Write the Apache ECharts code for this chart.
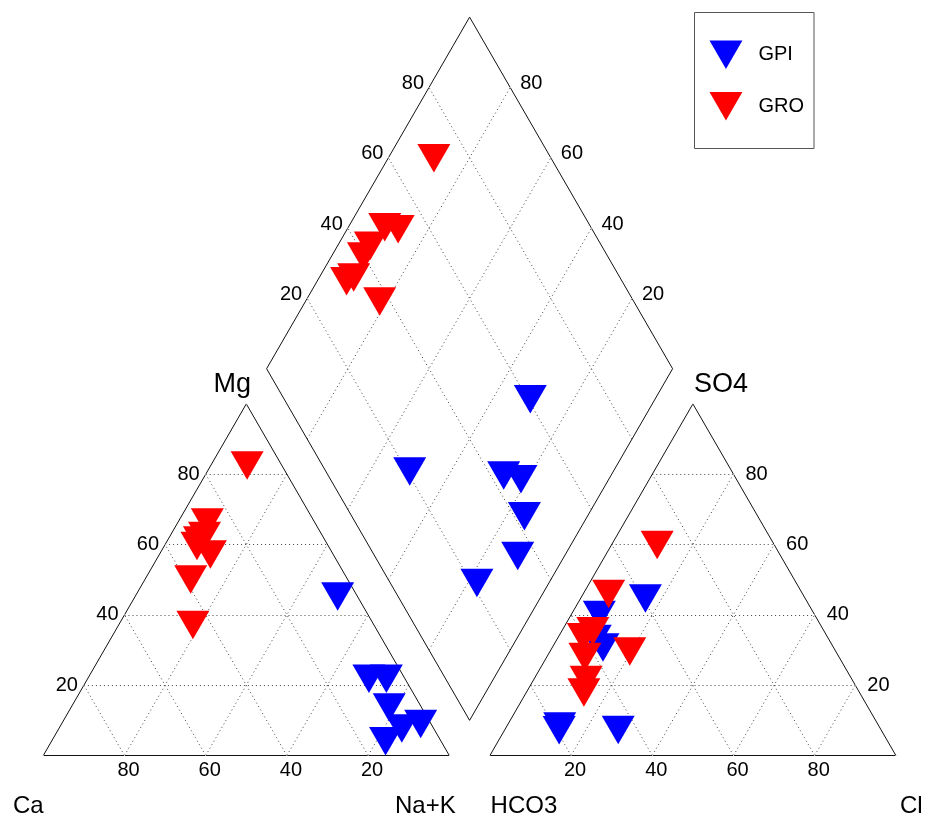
<!DOCTYPE html>
<html>
<head>
<meta charset="utf-8">
<script src="https://cdn.jsdelivr.net/npm/echarts@6/dist/echarts.min.js"></script>
<style>
  html, body { margin: 0; padding: 0; background: #fff; }
  #chart { width: 935px; height: 820px; }
</style>
</head>
<body>
<div id="chart"></div>
<script>
// ---------------- data (percent of meq) ----------------
const TICKS = [20, 40, 60, 80];
const GROUPS = ['GPI', 'GRO'];

const GPI_Ca   = [8.2, 4.2, 3.9, 7.3, 7.2, 1.9, 13.0];
const GPI_Mg   = [23.2, 46.6, 23.2, 15.0, 9.0, 10.3, 5.4];
const GPI_NaK  = [68.6, 49.2, 72.9, 77.7, 83.8, 87.8, 81.6];
const GPI_HCO3 = [38.7, 78.7, 56.1, 52.4, 56.8, 64.1, 78.0];
const GPI_SO4  = [46.0, 8.5, 32.1, 41.3, 34.5, 8.6, 9.6];
const GPI_Cl   = [15.3, 12.8, 11.8, 6.3, 8.7, 27.3, 12.4];

const GRO_Ca   = [7.9, 25.8, 28.4, 31.7, 30.3, 29.6, 38.0, 43.9];
const GRO_Mg   = [83.8, 67.6, 63.8, 60.9, 62.5, 58.5, 51.4, 38.5];
const GRO_NaK  = [8.3, 6.6, 7.8, 7.4, 7.2, 11.9, 10.6, 17.6];
const GRO_HCO3 = [50.1, 67.2, 64.9, 56.3, 59.5, 47.1, 28.2, 61.9];
const GRO_SO4  = [30.9, 19.3, 22.8, 36.7, 35.0, 47.3, 61.2, 29.4];
const GRO_Cl   = [19.0, 13.5, 12.3, 7.0, 5.5, 5.6, 10.6, 8.7];

// ---------------- Piper geometry (unit = triangle side) ----------------
const H = Math.sqrt(3) / 2;
const GAP = 0.1;
const AX = 1 + GAP;                 // anion triangle x origin
const DBX = 1 + GAP / 2;            // diamond bottom
const DBY = (GAP / 2) * Math.sqrt(3);

function cat(Ca, Mg, Na) { const t = Ca + Mg + Na; Mg /= t; Na /= t; return [Na + Mg / 2, Mg * H]; }
function ani(HC, SO, Cl) { const t = HC + SO + Cl; SO /= t; Cl /= t; return [AX + Cl + SO / 2, SO * H]; }
function dia(a, b) { return [DBX + (b - a) / 2, DBY + (a + b) * H]; }

function piper(Ca, Mg, Na, HC, SO, Cl) {
  const pts = [];
  for (let i = 0; i < Ca.length; i++) {
    const tc = Ca[i] + Mg[i] + Na[i], ta = HC[i] + SO[i] + Cl[i];
    const a = (Ca[i] + Mg[i]) / tc;          // Ca+Mg fraction
    const b = (SO[i] + Cl[i]) / ta;          // SO4+Cl fraction
    pts.push(cat(Ca[i], Mg[i], Na[i]));
    pts.push(ani(HC[i], SO[i], Cl[i]));
    pts.push(dia(a, b));
  }
  return pts;
}

// ---------------- pixel frame ----------------
const W = 935, HT = 820, X0 = 43.3, Y0 = 755.5, S = 406;

// outlines
const outline = [
  [cat(100,0,0), cat(0,0,100), cat(0,100,0), cat(100,0,0)],
  [ani(100,0,0), ani(0,0,100), ani(0,100,0), ani(100,0,0)],
  [dia(0,0), dia(0,1), dia(1,1), dia(1,0), dia(0,0)]
].map(c => ({ coords: c }));

// dotted grid
const grid = [];
TICKS.forEach(t => {
  const k = t / 100;
  grid.push([cat(100 - t, t, 0), cat(0, t, 100 - t)]);
  grid.push([cat(100 - t, 0, t), cat(0, 100 - t, t)]);
  grid.push([cat(t, 0, 100 - t), cat(t, 100 - t, 0)]);
  grid.push([ani(100 - t, t, 0), ani(0, t, 100 - t)]);
  grid.push([ani(100 - t, 0, t), ani(0, 100 - t, t)]);
  grid.push([ani(t, 0, 100 - t), ani(t, 100 - t, 0)]);
  grid.push([dia(k, 0), dia(k, 1)]);
  grid.push([dia(0, k), dia(1, k)]);
});

// labels
const FONT = 'Liberation Sans, Arial, sans-serif';
const labels = [];
TICKS.forEach(t => {
  const k = t / 100;
  labels.push({ name: String(t), value: cat(t, 0, 100 - t), label: { align: 'center', offset: [4, 15] } });
  labels.push({ name: String(t), value: cat(100 - t, t, 0), label: { align: 'right', offset: [-6, 0] } });
  labels.push({ name: String(t), value: ani(100 - t, 0, t), label: { align: 'center', offset: [4, 15] } });
  labels.push({ name: String(t), value: ani(0, t, 100 - t), label: { align: 'left', offset: [12, 0] } });
  labels.push({ name: String(t), value: dia(1, k), label: { align: 'right', offset: [-5, -4] } });
  labels.push({ name: String(t), value: dia(k, 1), label: { align: 'left', offset: [10, -4] } });
});
const titles = [
  { name: 'Mg',   value: cat(0,100,0), label: { align: 'center', offset: [-14, -19], fontSize: 27 } },
  { name: 'SO4',  value: ani(0,100,0), label: { align: 'center', offset: [28, -19], fontSize: 27 } },
  { name: 'Ca',   value: cat(100,0,0), label: { align: 'center', offset: [-15, 51], fontSize: 24 } },
  { name: 'Na+K', value: cat(0,0,100), label: { align: 'center', offset: [-24, 51], fontSize: 24 } },
  { name: 'HCO3', value: ani(100,0,0), label: { align: 'center', offset: [34, 51], fontSize: 24 } },
  { name: 'Cl',   value: ani(0,0,100), label: { align: 'left', offset: [4, 51], fontSize: 24 } }
];

const TRI = 'path://M0,0L2,0L1,1.732Z';
const SYM = [33, 28.5];

const chart = echarts.init(document.getElementById('chart'), null, { renderer: 'canvas' });
chart.setOption({
  animation: false,
  backgroundColor: '#ffffff',
  grid: { left: 0, right: 0, top: 0, bottom: 0, containLabel: false },
  xAxis: { type: 'value', min: -X0 / S, max: (W - X0) / S, show: false },
  yAxis: { type: 'value', min: -(HT - Y0) / S, max: Y0 / S, show: false },
  legend: {
    orient: 'vertical', left: 694.5, top: 12.5,
    padding: [28, 10, 28, 15], itemGap: 23,
    itemWidth: SYM[0], itemHeight: SYM[1],
    borderColor: '#555', borderWidth: 1,
    textStyle: { fontFamily: FONT, fontSize: 20, color: '#000', padding: [0, 0, 4, 11] },
    data: GROUPS.map(g => ({ name: g, icon: TRI }))
  },
  series: [
    { type: 'lines', coordinateSystem: 'cartesian2d', polyline: false, silent: true, z: 1,
      lineStyle: { color: '#444', width: 1, type: [1, 3], opacity: 1 }, data: grid.map(c => ({ coords: c })) },
    { type: 'lines', coordinateSystem: 'cartesian2d', polyline: true, silent: true, z: 2,
      lineStyle: { color: '#111', width: 1, opacity: 1 }, data: outline },
    { name: 'GPI', type: 'scatter', z: 5, symbol: TRI, symbolSize: SYM, symbolOffset: [0, SYM[1] / 6],
      itemStyle: { color: '#0000ff', opacity: 1 },
      data: piper(GPI_Ca, GPI_Mg, GPI_NaK, GPI_HCO3, GPI_SO4, GPI_Cl) },
    { name: 'GRO', type: 'scatter', z: 6, symbol: TRI, symbolSize: SYM, symbolOffset: [0, SYM[1] / 6],
      itemStyle: { color: '#ff0000', opacity: 1 },
      data: piper(GRO_Ca, GRO_Mg, GRO_NaK, GRO_HCO3, GRO_SO4, GRO_Cl) },
    { type: 'scatter', silent: true, z: 7, symbol: 'circle', symbolSize: 1,
      itemStyle: { color: '#ffffff', opacity: 1 },
      label: { show: true, position: 'inside', formatter: '{b}', color: '#000000', opacity: 1,
               textBorderWidth: 0, textBorderColor: 'transparent', textShadowBlur: 0,
               fontFamily: FONT, fontSize: 20, verticalAlign: 'middle' },
      data: labels.concat(titles) }
  ]
});
</script>
</body>
</html>
